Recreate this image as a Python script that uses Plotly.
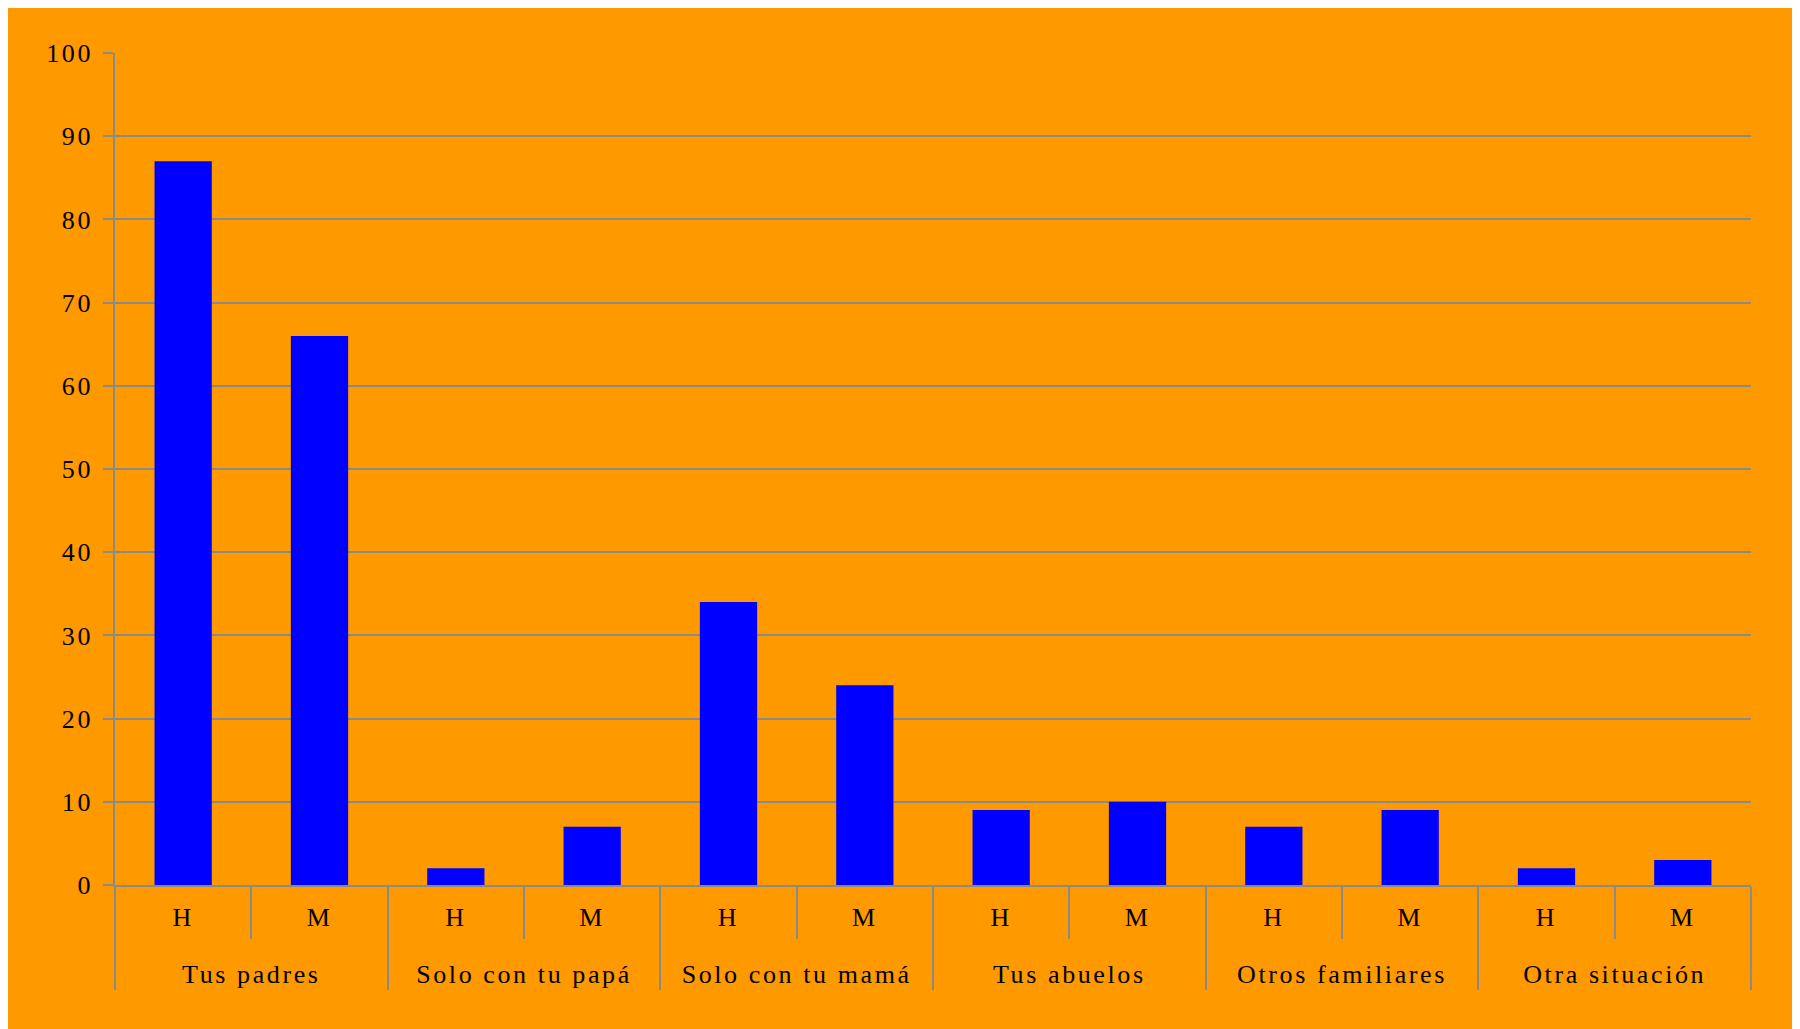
import plotly.graph_objects as go

categories = ["Tus padres", "Solo con tu papá", "Solo con tu mamá",
              "Tus abuelos", "Otros familiares", "Otra situación"]
sexes = ["H", "M"]
values = [87, 66, 2, 7, 34, 24, 9, 10, 7, 9, 2, 3]
y_ticks = [0, 10, 20, 30, 40, 50, 60, 70, 80, 90, 100]


def spaced(t):
    return "<span style='letter-spacing:2.6px'>" + str(t) + "</span>"


outer = ["<br>" + spaced(c) for c in categories for _ in sexes]
inner = [spaced(s) for _ in categories for s in sexes]

W, H = 1800, 1029
OFF = 8  # page body margin
L, R, T, B = 115 - OFF, 49 + OFF, 53 - OFF, 144 + OFF
pw, ph = W - L - R, H - T - B

font = dict(family="Liberation Serif", size=26, color="black")

fig = go.Figure(go.Bar(
    x=[outer, inner], y=values,
    marker=dict(color="#0000FF", line=dict(width=0)),
))

fig.add_shape(type="rect", xref="paper", yref="paper", layer="below",
              x0=-(L + 1) / pw, x1=1 + (W - OFF - 4 - (W - R)) / pw,
              y0=-(B + 20) / ph, y1=1 + (T + 1) / ph,
              fillcolor="#FF9900", line=dict(color="#9a9a9a", width=2))

fig.update_layout(
    width=W, height=H,
    margin=dict(l=L, r=R, t=T, b=B),
    paper_bgcolor="#E3F3FF", plot_bgcolor="#FF9900",
    bargap=0.58, showlegend=False, font=font,
)
fig.update_yaxes(range=[0, 100], tickvals=y_ticks,
                 ticktext=[spaced(v) for v in y_ticks], showgrid=True,
                 gridcolor="#8a8a8a", gridwidth=1.5,
                 showline=True, linecolor="#8a8a8a", linewidth=1.5,
                 ticks="outside", ticklen=10, tickcolor="#8a8a8a", tickwidth=1.5,
                 ticklabelstandoff=5, zeroline=False, tickfont=font)
fig.update_xaxes(type="multicategory", showline=True, linecolor="#8a8a8a",
                 linewidth=1.5, ticks="outside", ticklen=52, tickcolor="#8a8a8a",
                 tickwidth=1.5, tickson="boundaries", showdividers=True,
                 dividercolor="#8a8a8a", dividerwidth=1.5, tickfont=font,
                 ticklabelstandoff=8, showgrid=False)

fig.write_html("out.html")
